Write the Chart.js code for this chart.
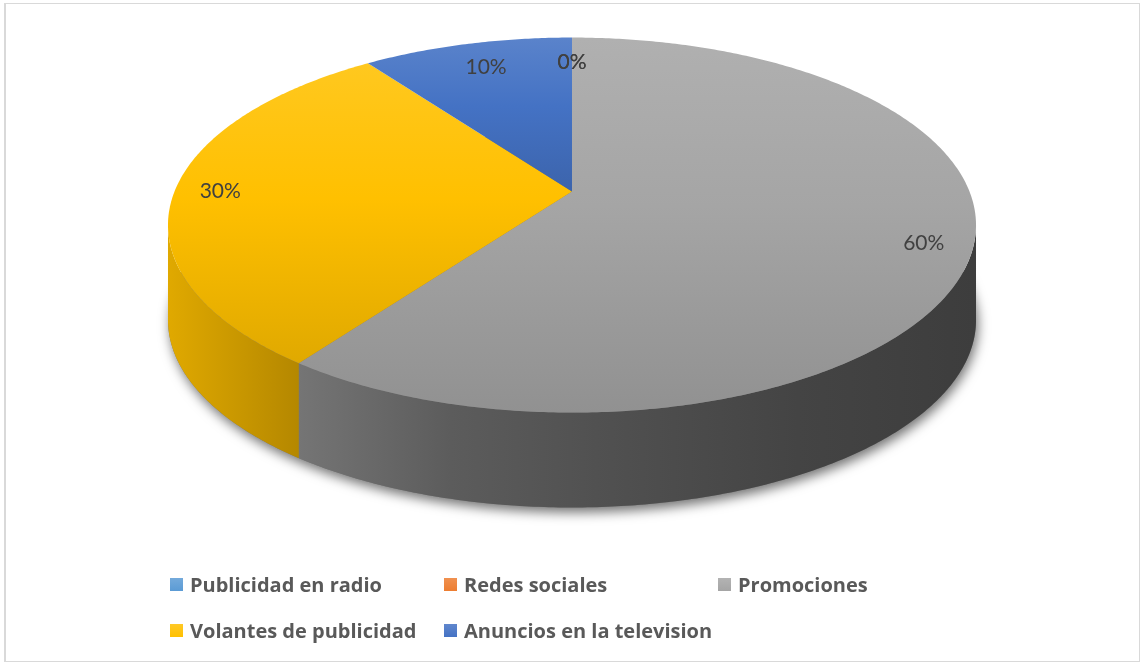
<!DOCTYPE html>
<html>
<head>
<meta charset="utf-8">
<title>Medios de publicidad</title>
<script src="https://cdn.jsdelivr.net/npm/chart.js"></script>
<style>
  body { margin: 0; background: #fff; }
  .wrap { position: relative; width: 1140px; height: 664px; }
  .frame { position: absolute; left: 4px; top: 3px; width: 1133px; height: 657px;
           border: 1px solid #d9d9d9; border-left-width: 2px; pointer-events: none; }
  .legend { position: absolute; left: 170px; top: 561px; display: grid;
            grid-template-columns: 274px 274px 274px; grid-auto-rows: 46px;
            font: bold 20px "Open Sans", sans-serif; color: #595959; }
  .legend div { display: flex; align-items: center; white-space: nowrap; }
  .legend i { display: inline-block; width: 13px; height: 13px; margin-right: 7px; }
</style>
</head>
<body>
<div class="wrap">
  <canvas id="pie"></canvas>
  <div class="legend" id="legend"></div>
  <div class="frame"></div>
</div>

<script>
const labels = ['Publicidad en radio', 'Redes sociales', 'Promociones', 'Volantes de publicidad', 'Anuncios en la television'];
const values = [0, 0, 60, 30, 10];
const colors = ['#5B9BD5', '#ED7D31', '#A5A5A5', '#FFC000', '#4472C4'];

// 3D look: far edge foreshortened, ellipse stretched sideways, wall height
const K = 0.179;
const STRETCH = 2.19;
const DEPTH = 0.523;

function rgb(hex) {
  const n = parseInt(hex.slice(1), 16);
  return [n >> 16, (n >> 8) & 255, n & 255];
}
function shade(hex, f) {
  return 'rgb(' + rgb(hex).map(c => Math.round(Math.min(255, c * f))).join(',') + ')';
}
function lighten(hex, f) {
  return 'rgb(' + rgb(hex).map(c => Math.round(c + (255 - c) * f)).join(',') + ')';
}

function project(arc, theta, r, h) {
  const u = r * Math.sin(theta), v = r * Math.cos(theta);
  const d = 1 + K * v;
  return {
    x: arc.x + arc.outerRadius * STRETCH * u / d,
    y: arc.y - arc.outerRadius * v / d + h
  };
}

function rimPoints(arc, a, b, h) {
  const pts = [];
  const steps = Math.max(2, Math.ceil((b - a) / 0.01));
  for (let i = 0; i <= steps; i++) pts.push(project(arc, a + (b - a) * i / steps, 1, h));
  return pts;
}

const pie3d = {
  id: 'pie3d',
  beforeDatasetsDraw(chart) {
    const ctx = chart.ctx;
    const arcs = chart.getDatasetMeta(0).data;
    const a0 = arcs[0];
    const depth = a0.outerRadius * DEPTH;
    const halfW = a0.outerRadius * STRETCH / Math.sqrt(1 - K * K);
    const t1 = Math.acos(-K), t2 = 2 * Math.PI - t1;

    // soft shadow under the base
    ctx.save();
    ctx.shadowColor = 'rgba(0,0,0,0.55)';
    ctx.shadowBlur = 12;
    ctx.shadowOffsetX = 2;
    ctx.shadowOffsetY = 5;
    ctx.beginPath();
    rimPoints(a0, 0, 2 * Math.PI, depth).forEach((p, i) => i ? ctx.lineTo(p.x, p.y) : ctx.moveTo(p.x, p.y));
    ctx.closePath();
    ctx.fillStyle = '#777';
    ctx.fill();
    ctx.restore();

    // front walls
    arcs.forEach((arc, i) => {
      const a = Math.max(arc.startAngle + Math.PI / 2, t1);
      const b = Math.min(arc.endAngle + Math.PI / 2, t2);
      if (b <= a) return;
      const top = rimPoints(arc, a, b, 0);
      const bottom = rimPoints(arc, a, b, depth).reverse();
      const g = ctx.createLinearGradient(arc.x - halfW, 0, arc.x + halfW, 0);
      g.addColorStop(0, shade(colors[i], 0.88));
      g.addColorStop(0.16, shade(colors[i], 0.71));
      g.addColorStop(0.35, shade(colors[i], 0.56));
      g.addColorStop(0.53, shade(colors[i], 0.49));
      g.addColorStop(0.78, shade(colors[i], 0.41));
      g.addColorStop(1, shade(colors[i], 0.37));
      ctx.beginPath();
      top.concat(bottom).forEach((p, j) => j ? ctx.lineTo(p.x, p.y) : ctx.moveTo(p.x, p.y));
      ctx.closePath();
      ctx.fillStyle = g;
      ctx.fill();
    });

    // top faces
    arcs.forEach((arc, i) => {
      const a = arc.startAngle + Math.PI / 2, b = arc.endAngle + Math.PI / 2;
      if (b - a <= 0) return;
      const c = project(arc, 0, 0, 0);
      const rim = rimPoints(arc, a, b, 0);
      const ys = rim.map(p => p.y).concat(c.y);
      const g = ctx.createLinearGradient(0, Math.min(...ys), 0, Math.max(...ys));
      g.addColorStop(0, lighten(colors[i], 0.12));
      g.addColorStop(0.45, colors[i]);
      g.addColorStop(1, shade(colors[i], 0.88));
      ctx.beginPath();
      ctx.moveTo(c.x, c.y);
      rim.forEach(p => ctx.lineTo(p.x, p.y));
      ctx.closePath();
      ctx.fillStyle = g;
      ctx.fill();
    });

    // percentage labels, pushed down a little on the far side
    const total = values.reduce((s, v) => s + v, 0);
    ctx.save();
    ctx.font = '21px Lato, sans-serif';
    ctx.fillStyle = '#404040';
    ctx.textAlign = 'center';
    ctx.textBaseline = 'middle';
    arcs.forEach((arc, i) => {
      const mid = (arc.startAngle + arc.endAngle) / 2 + Math.PI / 2;
      const p = project(arc, mid, 0.885, 0);
      const x = p.x + 9 * Math.max(0, Math.cos(mid)) * Math.sign(Math.sin(mid)) * -1;
      const y = p.y + 9 * Math.max(0, Math.cos(mid));
      ctx.fillText(Math.round(values[i] / total * 100) + '%', x, y);
    });
    ctx.restore();
    return false;
  }
};

new Chart(document.getElementById('pie'), {
  type: 'pie',
  data: {
    labels: labels,
    datasets: [{ data: values, backgroundColor: colors, borderWidth: 0 }]
  },
  options: {
    responsive: true,
    maintainAspectRatio: false,
    animation: false,
    events: [],
    layout: { padding: { left: 4, right: 0, top: 10, bottom: 291 } },
    plugins: { legend: { display: false }, tooltip: { enabled: false } }
  },
  plugins: [pie3d]
});

// legend laid out in columns
const legend = document.getElementById('legend');
labels.forEach((name, i) => {
  const item = document.createElement('div');
  const box = document.createElement('i');
  box.style.background = 'linear-gradient(' + lighten(colors[i], 0.15) + ',' + colors[i] + ')';
  item.appendChild(box);
  item.appendChild(document.createTextNode(name));
  legend.appendChild(item);
});
</script>
</body>
</html>
